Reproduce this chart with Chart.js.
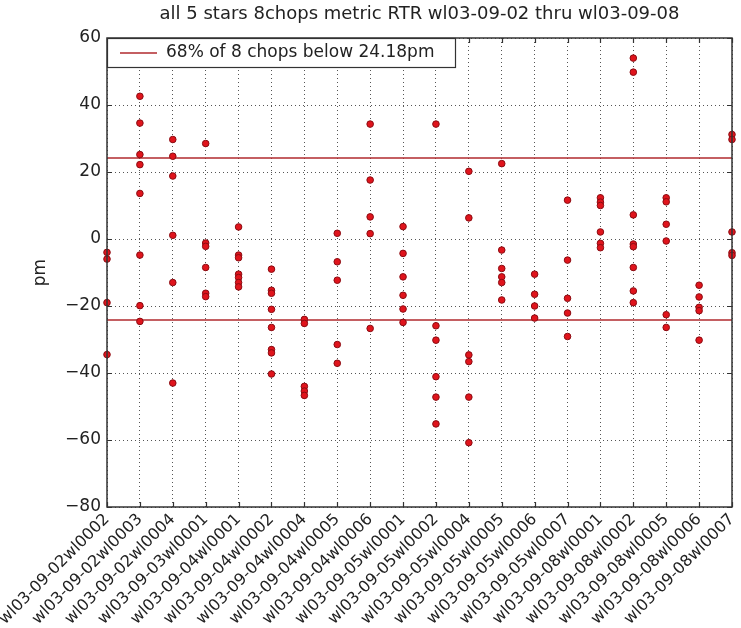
<!DOCTYPE html>
<html><head><meta charset="utf-8">
<script src="https://cdn.jsdelivr.net/npm/chart.js@4/dist/chart.umd.min.js"></script>
<style>html,body{margin:0;padding:0;background:#fff}#wrap{width:741px;height:628px}</style>
</head><body><div id="wrap"><canvas id="c" width="741" height="628"></canvas></div>
<script>
const chartTitle = "all 5 stars 8chops metric RTR wl03-09-02 thru wl03-09-08";
const yAxisTitle = "pm";
const legendLabel = "68% of 8 chops below 24.18pm";
const thresholdPm = 24.18;
const yTickRange = [-80, 60, 20];
const categories = [
  "wl03-09-02wl0002","wl03-09-02wl0003","wl03-09-02wl0004","wl03-09-03wl0001",
  "wl03-09-04wl0001","wl03-09-04wl0002","wl03-09-04wl0004","wl03-09-04wl0005",
  "wl03-09-04wl0006","wl03-09-05wl0001","wl03-09-05wl0002","wl03-09-05wl0004",
  "wl03-09-05wl0005","wl03-09-05wl0006","wl03-09-05wl0007","wl03-09-08wl0001",
  "wl03-09-08wl0002","wl03-09-08wl0005","wl03-09-08wl0006","wl03-09-08wl0007"
];
const v01 = [-4, -6, -19, -34.5];
const v02 = [42.6, 34.6, 25.2, 22.2, 13.6, -4.8, -19.9, -24.6];
const v03 = [29.7, 24.7, 18.8, 1.1, -13, -43];
const v04 = [28.5, -1.2, -2.2, -8.5, -16.2, -17.2];
const v05 = [3.6, -4.8, -5.6, -10.5, -11.5, -13, -14.3];
const v06 = [-9, -15.3, -16.2, -21, -26.4, -33, -34, -40.3];
const v07 = [-24, -25.2, -44, -45.4, -46.7];
const v08 = [1.7, -6.8, -12.3, -31.5, -37.1];
const v09 = [34.3, 17.6, 6.6, 1.6, -26.7];
const v10 = [3.7, -4.3, -11.3, -16.8, -20.9, -24.9];
const v11 = [34.3, -25.9, -30.2, -41.1, -47.2, -55.2];
const v12 = [20.2, 6.3, -34.6, -36.6, -47.2, -60.8];
const v13 = [22.5, -3.3, -8.8, -11.3, -13, -18.2];
const v14 = [-10.5, -16.5, -20, -23.6];
const v15 = [11.6, -6.3, -17.7, -22.1, -29.1];
const v16 = [12.3, 11, 10, 2.1, -1.3, -2.6];
const v17 = [54, 49.8, 7.2, -1.5, -2.3, -8.5, -15.5, -19];
const v18 = [12.3, 11.1, 4.4, -0.6, -22.6, -26.4];
const v19 = [-13.8, -17.3, -20.4, -21.4, -30.2];
const v20 = [31.2, 29.7, 2.1, -4.1, -4.9];
const chopValues = [v01,v02,v03,v04,v05,v06,v07,v08,v09,v10,v11,v12,v13,v14,v15,v16,v17,v18,v19,v20];

const FONT = "'DejaVu Sans', sans-serif";
const LINE_RED = '#b02a2e';
const points = [];
chopValues.forEach((arr, i) => arr.forEach(v => points.push({x: i + 1, y: v})));
const nCat = categories.length;

const framePlugin = {
  id: 'frame',
  afterDraw(chart) {
    const {ctx, chartArea: a, scales: {x, y}} = chart;
    ctx.save();
    // inward ticks
    ctx.strokeStyle = '#333'; ctx.lineWidth = 1.2;
    ctx.beginPath();
    for (let i = 1; i <= nCat; i++) {
      const px = Math.round(x.getPixelForValue(i)) + 0.5;
      ctx.moveTo(px, a.bottom); ctx.lineTo(px, a.bottom - 5);
      ctx.moveTo(px, a.top); ctx.lineTo(px, a.top + 5);
    }
    for (let v = yTickRange[0]; v <= yTickRange[1]; v += yTickRange[2]) {
      const py = Math.round(y.getPixelForValue(v)) + 0.5;
      ctx.moveTo(a.left, py); ctx.lineTo(a.left + 5, py);
      ctx.moveTo(a.right, py); ctx.lineTo(a.right - 5, py);
    }
    ctx.stroke();
    // legend box
    const bx = a.left, by = a.top, bw = 348, bh = 29;
    ctx.fillStyle = '#fff';
    ctx.fillRect(bx, by, bw, bh);
    ctx.strokeStyle = '#333'; ctx.lineWidth = 1.2;
    ctx.strokeRect(bx + 0.5, by + 0.5, bw, bh);
    ctx.strokeStyle = LINE_RED; ctx.lineWidth = 1.5;
    ctx.beginPath(); ctx.moveTo(bx + 13, by + 15); ctx.lineTo(bx + 50, by + 15); ctx.stroke();
    ctx.fillStyle = '#222'; ctx.font = '17px ' + FONT; ctx.textBaseline = 'middle'; ctx.textAlign = 'left';
    ctx.fillText(legendLabel, bx + 59, by + 15);
    // axes box
    ctx.strokeStyle = '#333'; ctx.lineWidth = 1.5;
    ctx.strokeRect(a.left, a.top, a.right - a.left, a.bottom - a.top);
    // title
    ctx.fillStyle = '#222'; ctx.font = '18px ' + FONT; ctx.textAlign = 'center'; ctx.textBaseline = 'middle';
    ctx.fillText(chartTitle, (a.left + a.right) / 2, 14);
    ctx.restore();
  }
};

new Chart(document.getElementById('c'), {
  type: 'scatter',
  data: {
    datasets: [
      {label: legendLabel, type: 'line', data: [{x: 1, y: thresholdPm}, {x: nCat, y: thresholdPm}],
       borderColor: LINE_RED, borderWidth: 1.5, pointRadius: 0, fill: false, order: 2},
      {label: '', type: 'line', data: [{x: 1, y: -thresholdPm}, {x: nCat, y: -thresholdPm}],
       borderColor: LINE_RED, borderWidth: 1.5, pointRadius: 0, fill: false, order: 2},
      {label: 'chops', data: points, pointRadius: 3.3, pointBackgroundColor: '#e0141c',
       pointBorderColor: '#8a0c12', pointBorderWidth: 1, clip: false, order: 1}
    ]
  },
  options: {
    responsive: false, animation: false, devicePixelRatio: 1,
    layout: {padding: {top: 38, right: 9, left: 0, bottom: 0}},
    plugins: {legend: {display: false}, title: {display: false}, tooltip: {enabled: false}},
    scales: {
      x: {
        type: 'linear', min: 1, max: nCat,
        afterFit(s) { s.height = 121; s.paddingLeft = 0; s.paddingRight = 0; },
        afterBuildTicks(s) { s.ticks = categories.map((_, i) => ({value: i + 1})); },
        ticks: {autoSkip: false, minRotation: 45, maxRotation: 45, padding: 3, color: '#222',
                font: {family: FONT, size: 16},
                callback: v => categories[v - 1]},
        grid: {color: '#555', lineWidth: 1, drawTicks: false},
        border: {display: false, dash: [1, 3]}
      },
      y: {
        min: yTickRange[0], max: yTickRange[1],
        afterFit(s) { s.width = 107; s.paddingTop = 0; s.paddingBottom = 0; },
        ticks: {stepSize: yTickRange[2], padding: 6, color: '#222', font: {family: FONT, size: 17},
                callback: v => String(v).replace('-', '\u2212')},
        grid: {color: '#555', lineWidth: 1, drawTicks: false},
        border: {display: false, dash: [1, 3]},
        title: {display: true, text: yAxisTitle, color: '#222', font: {family: FONT, size: 17},
                padding: {top: 30, bottom: 0}}
      }
    }
  },
  plugins: [framePlugin]
});
</script></body></html>
